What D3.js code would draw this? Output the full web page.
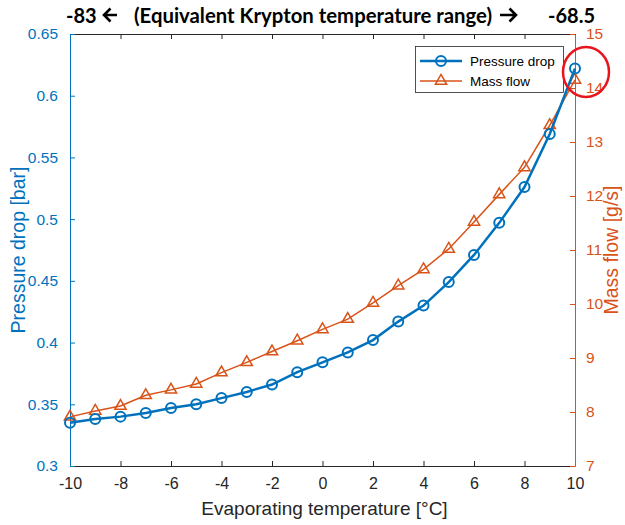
<!DOCTYPE html>
<html>
<head>
<meta charset="utf-8">
<script src="https://cdn.jsdelivr.net/npm/d3@7"></script>
<style>
  html, body { margin: 0; padding: 0; background: #fff; }
  svg { display: block; }
</style>
</head>
<body>
<svg id="chart" width="625" height="525"></svg>
<script>
// Evaporating temperature [°C]
const temperatures = [-10,-9,-8,-7,-6,-5,-4,-3,-2,-1,0,1,2,3,4,5,6,7,8,9,10];
// Pressure drop [bar]
const pressureDrop = [0.335,0.338,0.340,0.343,0.347,0.350,0.355,0.360,0.366,0.376,0.384,
                      0.392,0.402,0.417,0.430,0.449,0.471,0.497,0.526,0.569,0.622];
// Mass flow [g/s]
const massFlow = [7.91,8.02,8.11,8.31,8.41,8.52,8.73,8.92,9.12,9.32,9.53,
                  9.72,10.02,10.34,10.64,11.02,11.52,12.03,12.53,13.31,14.15];
const xTicks = [-10,-8,-6,-4,-2,0,2,4,6,8,10];
const leftTicks = [0.3,0.35,0.4,0.45,0.5,0.55,0.6,0.65];
const rightTicks = [7,8,9,10,11,12,13,14,15];
const seriesNames = ["Pressure drop", "Mass flow"];

const BLUE = "#0072BD", ORANGE = "#D95319", DARK = "#262626";
const svg = d3.select("#chart");
const L = 70, R = 575, T = 34, B = 466;

const x = d3.scaleLinear().domain([-10, 10]).range([L, R]);
const yL = d3.scaleLinear().domain([0.3, 0.65]).range([B, T]);
const yR = d3.scaleLinear().domain([7, 15]).range([B, T]);

const font = "Liberation Sans, Arial, Helvetica, sans-serif";
const tickLen = 5;
const plain = d => String(+d.toFixed(2));   // ASCII hyphen for negatives

// bottom axis (ticks point inward)
const xAxis = svg.append("g").attr("transform", `translate(0,${B})`)
  .call(d3.axisBottom(x).tickValues(xTicks).tickSizeInner(-tickLen).tickSizeOuter(0).tickPadding(12)
        .tickFormat(plain));
xAxis.select(".domain").attr("stroke", DARK);
xAxis.selectAll(".tick line").attr("stroke", DARK);
xAxis.selectAll("text").attr("fill", DARK).style("font", `16px ${font}`);

// top box edge
const topAxis = svg.append("g").attr("transform", `translate(0,${T})`)
  .call(d3.axisTop(x).tickValues(xTicks).tickSizeInner(-tickLen).tickSizeOuter(0).tickFormat(""));
topAxis.select(".domain").attr("stroke", DARK);
topAxis.selectAll(".tick line").attr("stroke", DARK);

// left axis
const leftAxis = svg.append("g").attr("transform", `translate(${L},0)`)
  .call(d3.axisLeft(yL).tickValues(leftTicks).tickSizeInner(-tickLen).tickSizeOuter(0).tickPadding(12)
        .tickFormat(plain));
leftAxis.select(".domain").attr("stroke", BLUE);
leftAxis.selectAll(".tick line").attr("stroke", BLUE);
leftAxis.selectAll("text").attr("fill", BLUE).style("font", `15.5px ${font}`);

// right axis
const rightAxis = svg.append("g").attr("transform", `translate(${R},0)`)
  .call(d3.axisRight(yR).tickValues(rightTicks).tickSizeInner(-tickLen).tickSizeOuter(0).tickPadding(11)
        .tickFormat(plain));
rightAxis.select(".domain").attr("stroke", ORANGE);
rightAxis.selectAll(".tick line").attr("stroke", ORANGE);
rightAxis.selectAll("text").attr("fill", ORANGE).style("font", `15.5px ${font}`);

// axis titles
svg.append("text").attr("x", (L + R) / 2 + 2).attr("y", 515).attr("text-anchor", "middle")
  .attr("fill", DARK).style("font", `19px ${font}`).text("Evaporating temperature [°C]");
svg.append("text").attr("transform", `translate(25,${(T + B) / 2}) rotate(-90)`)
  .attr("text-anchor", "middle").attr("fill", BLUE).style("font", `19.5px ${font}`).text("Pressure drop [bar]");
svg.append("text").attr("transform", `translate(618,${(T + B) / 2}) rotate(-90)`)
  .attr("text-anchor", "middle").attr("fill", ORANGE).style("font", `19.5px ${font}`).text("Mass flow [g/s]");

// series
const tri = d3.symbol().type(d3.symbolTriangle).size(55);

svg.append("path").datum(massFlow)
  .attr("fill", "none").attr("stroke", ORANGE).attr("stroke-width", 1.5)
  .attr("d", d3.line().x((d, i) => x(temperatures[i])).y(d => yR(d)));
svg.selectAll(".mf").data(massFlow).join("path").attr("class", "mf")
  .attr("transform", (d, i) => `translate(${x(temperatures[i])},${yR(d)})`)
  .attr("d", tri).attr("fill", "none").attr("stroke", ORANGE).attr("stroke-width", 1.5);

svg.append("path").datum(pressureDrop)
  .attr("fill", "none").attr("stroke", BLUE).attr("stroke-width", 2.5)
  .attr("d", d3.line().x((d, i) => x(temperatures[i])).y(d => yL(d)));
svg.selectAll(".pd").data(pressureDrop).join("circle").attr("class", "pd")
  .attr("cx", (d, i) => x(temperatures[i])).attr("cy", d => yL(d)).attr("r", 5)
  .attr("fill", "none").attr("stroke", BLUE).attr("stroke-width", 2);

// legend
const lg = svg.append("g");
lg.append("rect").attr("x", 415.5).attr("y", 46.5).attr("width", 148).attr("height", 46)
  .attr("fill", "#fff").attr("stroke", DARK).attr("stroke-width", 0.8);
const rows = [
  { name: seriesNames[0], color: BLUE, w: 2.5, y: 61 },
  { name: seriesNames[1], color: ORANGE, w: 1.5, y: 81 }
];
rows.forEach((r, i) => {
  lg.append("line").attr("x1", 420).attr("x2", 462).attr("y1", r.y).attr("y2", r.y)
    .attr("stroke", r.color).attr("stroke-width", r.w);
  if (i === 0) {
    lg.append("circle").attr("cx", 441).attr("cy", r.y).attr("r", 5)
      .attr("fill", "none").attr("stroke", r.color).attr("stroke-width", 2);
  } else {
    lg.append("path").attr("transform", `translate(441,${r.y})`).attr("d", tri)
      .attr("fill", "none").attr("stroke", r.color).attr("stroke-width", 1.5);
  }
  lg.append("text").attr("x", 470).attr("y", r.y + 5).attr("fill", "#000")
    .style("font", `13.5px ${font}`).text(r.name);
});

// highlight around the last points
svg.append("ellipse").attr("cx", 586).attr("cy", 72).attr("rx", 23).attr("ry", 25)
  .attr("fill", "none").attr("stroke", "#E8141B").attr("stroke-width", 2.5);

// header: equivalent Krypton temperature range
const hf = "bold 20px Lato, 'Open Sans', sans-serif";
const head = svg.append("g").attr("fill", "#000");
head.append("text").attr("x", 66).attr("y", 23).style("font", hf).text("-83");
head.append("text").attr("x", 134).attr("y", 23).style("font", hf)
  .attr("textLength", 358).attr("lengthAdjust", "spacingAndGlyphs")
  .text("(Equivalent Krypton temperature range)");
head.append("text").attr("x", 548).attr("y", 23).style("font", hf).text("-68.5");

// heavy arrows either side of the header
function arrow(x0, x1, yc) {
  const dir = Math.sign(x1 - x0), h = 6.5;
  head.append("path")
    .attr("d", `M${x0},${yc}H${x1}M${x1 - dir * h},${yc - h}L${x1},${yc}L${x1 - dir * h},${yc + h}`)
    .attr("fill", "none").attr("stroke", "#000").attr("stroke-width", 2.6)
    .attr("stroke-linejoin", "miter").attr("stroke-linecap", "butt");
}
arrow(117, 104, 15);
arrow(500, 516, 15);
</script>
</body>
</html>
